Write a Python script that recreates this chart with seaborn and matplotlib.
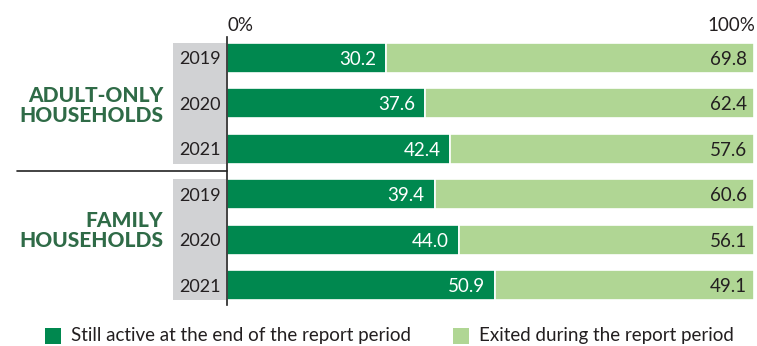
import matplotlib
matplotlib.use("Agg")
import matplotlib.pyplot as plt
from matplotlib.patches import Rectangle
from matplotlib.transforms import blended_transform_factory
import pandas as pd
import seaborn as sns

groups = ["ADULT-ONLY\nHOUSEHOLDS", "FAMILY\nHOUSEHOLDS"]
years = ["2019", "2020", "2021"]
still_active = [30.2, 37.6, 42.4, 39.4, 44.0, 50.9]
exited = [69.8, 62.4, 57.6, 60.6, 56.1, 49.1]
legend_labels = ["Still active at the end of the report period",
                 "Exited during the report period"]

DARK = "#00884F"
LIGHT = "#B0D694"
GROUP_COLOR = "#2F6B47"
BOX_GRAY = "#D1D2D4"
TEXT = "#231F20"
FS = 13.5

rows = [f"{g.split()[0]} {y}" for g in groups for y in years]
df = pd.DataFrame({"row": rows, "active": still_active, "exited": exited})

sns.set_theme(style="white")
plt.rcParams["font.family"] = ["Lato", "DejaVu Sans"]

fig = plt.figure(figsize=(7.57, 3.46), dpi=100)
ax = fig.add_axes([227 / 757, 1 - 305 / 346, (755 - 227) / 757, (305 - 37) / 346])

bar_h = 0.66
sns.barplot(data=df, y="row", x="active", orient="h", color=DARK,
            saturation=1, width=bar_h, edgecolor="white", linewidth=1.2, ax=ax)
ypos = list(range(len(rows)))
ax.barh(ypos, df["exited"], left=df["active"], height=bar_h, color=LIGHT,
        edgecolor="white", linewidth=1.2)

ax.set_xlim(0, 100.2)
ax.set_ylim(5.43, -0.46)
ax.set_xlabel("")
ax.set_ylabel("")
ax.set_xticks([])
ax.set_yticks([])
for side in ["top", "right", "bottom"]:
    ax.spines[side].set_visible(False)
ax.spines["left"].set_color("#222222")
ax.spines["left"].set_linewidth(1.2)

# value labels
for i, (a, e) in enumerate(zip(df["active"], df["exited"])):
    ax.text(a - 1.9, i + 0.03, f"{a:.1f}", ha="right", va="center",
            color="white", fontsize=FS)
    ax.text(a + e - 1.3, i + 0.03, f"{e:.1f}", ha="right", va="center",
            color=TEXT, fontsize=FS)

# year labels on gray panels
tr = blended_transform_factory(ax.transAxes, ax.transData)
px = 1 / (755 - 227)
group_label_y = [1.04, 3.8]
for gi in range(2):
    top = gi * 3 - bar_h / 2
    ax.add_patch(Rectangle((-(227 - 173) * px, top), (226 - 173) * px,
                           2 + bar_h, transform=tr, color=BOX_GRAY,
                           clip_on=False, zorder=0, lw=0))
    for yi, yr in enumerate(years):
        ax.text(-6 * px, gi * 3 + yi + 0.03, yr, transform=tr, ha="right",
                va="center", fontsize=13, color=TEXT)
    ax.text(-(227 - 163) * px, group_label_y[gi], groups[gi], transform=tr,
            ha="right", va="center", fontsize=15, fontweight="black",
            color=GROUP_COLOR, linespacing=1.05)

# separator between the two household types
ax.plot([-(227 - 17) * px, 0], [2.49, 2.49], transform=tr, color="#222222",
        lw=1.2, clip_on=False)

# scale labels
ax.text(0, -0.72, "0%", ha="left", va="center", fontsize=FS, color=TEXT)
ax.text(100.2, -0.72, "100%", ha="right", va="center", fontsize=FS, color=TEXT)

# legend
for x0, col, lab in [(45, DARK, legend_labels[0]), (453, LIGHT, legend_labels[1])]:
    fig.patches.append(Rectangle((x0 / 757, 1 - 344 / 346), 16 / 757, 16 / 346,
                                 transform=fig.transFigure, color=col, lw=0))
    fig.text((x0 + 26) / 757, 1 - 336 / 346, lab, ha="left", va="center",
             fontsize=FS, color=TEXT)

fig.savefig("out.png", dpi=100)
